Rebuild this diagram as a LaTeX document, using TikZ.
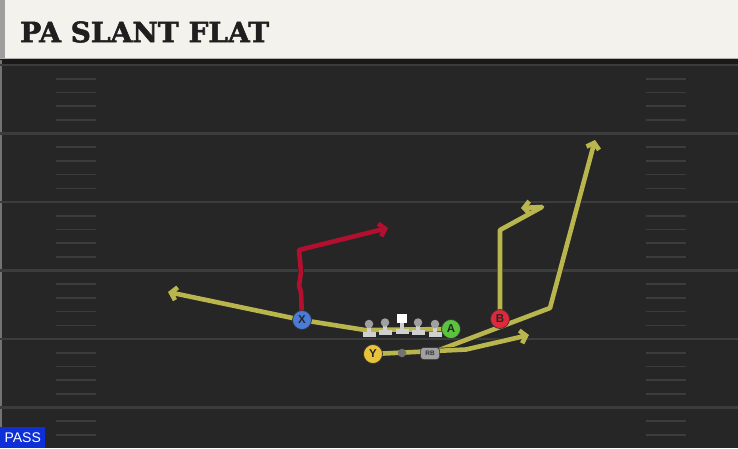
\documentclass[tikz,border=0pt]{standalone}
\usepackage{fontspec}
\setmainfont{Liberation Sans}
\newfontfamily\titlefont{DejaVu Serif}[BoldFeatures={FakeBold=2}]
\usetikzlibrary{arrows.meta}
\definecolor{fieldbg}{HTML}{262626}
\definecolor{yardline}{HTML}{3C3C3C}
\definecolor{hashc}{HTML}{3C3C3C}
\definecolor{titlebg}{HTML}{F4F2EC}
\definecolor{routey}{HTML}{B9B64E}
\definecolor{router}{HTML}{B3102F}
\definecolor{pblue}{HTML}{4A7BD8}
\definecolor{pgreen}{HTML}{5BC43E}
\definecolor{pred}{HTML}{E0283A}
\definecolor{pyellow}{HTML}{E8C33A}
\definecolor{linegray}{HTML}{D0D0D0}
\definecolor{headgray}{HTML}{A0A0A0}
\definecolor{passblue}{HTML}{0C2FD8}
\pgfdeclarelayer{field}
\pgfdeclarelayer{routes}
\pgfsetlayers{field,routes,main}
\tikzset{
  route/.style={line width=4.6pt, line join=round, draw=#1,
    preaction={draw=black!85, line width=6pt}},
  tip/.style={-{Straight Barb[length=5.5pt,width=13pt]}},
  player/.style={circle, draw=black!80, line width=0.7pt, minimum size=19pt, inner sep=0pt,
    font=\bfseries\fontsize{11.5}{11.5}\selectfont, text=black!85, fill=#1},
  lmhead/.style={circle, fill=headgray, minimum size=8.5pt, inner sep=0pt},
  lmbar/.style={fill=linegray},
  hashmark/.style={draw=hashc, line width=1.6pt},
  yline/.style={draw=yardline, line width=2.4pt}
}
\begin{document}
\begin{tikzpicture}[x=1pt,y=-1pt]
\useasboundingbox (0,0) rectangle (738,448);
\begin{pgfonlayer}{field}
  \fill[fieldbg] (0,0) rectangle (738,448);
  \fill[black!90] (0,58) rectangle (738,64);
  \fill[black!55] (0,60) rectangle (2,448);
  % yard lines
  \foreach \yy in {65,133.5,202,270.5,339,407.5} {
    \draw[yline] (0,\yy) -- (738,\yy);
  }
  % hash marks
  \foreach \yy in {65,133.5,202,270.5,339,407.5} {
    \foreach \k in {1,2,3,4} {
      \pgfmathsetmacro{\hy}{\yy+13.7*\k}
      \ifdim\hy pt<446pt
        \draw[hashmark] (56,\hy) -- (96,\hy);
        \draw[hashmark] (646,\hy) -- (686,\hy);
      \fi
    }
  }
  % title bar
  \fill[titlebg] (0,0) rectangle (738,58);
  \fill[black!38] (0,0) rectangle (4.5,58);
  \draw[black!30, line width=0.8pt] (0,58) -- (738,58);
\end{pgfonlayer}

\node[anchor=west, inner sep=0pt, font=\titlefont\bfseries\fontsize{28}{28}\selectfont, text=black!88] (title) at (20,32) {PA SLANT FLAT};

% linemen
\foreach \xx/\hy/\by [count=\i] in {369/324/334, 385/322.5/332, 418/322.5/332, 435/324/334} {
  \fill[lmbar] (\xx-1.8,\hy) rectangle (\xx+1.8,\by);
  \fill[lmbar] (\xx-6.5,\by-2) rectangle (\xx+6.5,\by+2.8);
  \node[lmhead] (lm\i) at (\xx,\hy) {};
}
\fill[lmbar] (400.2,318) rectangle (403.8,331);
\fill[lmbar] (395.5,329) rectangle (408.5,334);
\node[fill=white, minimum size=9.5pt, inner sep=0pt] (C) at (402,318.5) {};

% players
\node[player=pblue] (X) at (302,320) {X};
\node[player=pgreen] (A) at (451,329) {A};
\node[player=pred] (B) at (500,319) {B};
\node[player=pyellow] (Y) at (373,354) {Y};
\node[circle, fill=black!55, minimum size=8.5pt, inner sep=0pt] (QB) at (402,353) {};
\node[draw=black!80, line width=0.5pt, fill=headgray, rounded corners=3pt, minimum width=19pt, minimum height=12pt, inner sep=0pt, font=\bfseries\fontsize{6.5}{6.5}\selectfont, text=black!80] (RB) at (430,353.5) {RB};

\coordinate (Aend) at (168,292);
\coordinate (Xend) at (388,228);
\coordinate (Bend) at (521,208);
\coordinate (Yend) at (529,335);
\coordinate (Rend) at (595,140);

\begin{pgfonlayer}{routes}
  \draw[route=routey, tip] (A.center) -- (365,330) -- (X.center) -- (Aend);
  \draw[route=router, tip] (X.center) -- (301,292) -- (299,286) -- (301,272) -- (299,250) -- (Xend);
  \draw[route=routey, tip] (B.center) -- (500,230) -- (542,207) -- (Bend);
  \draw[route=routey, tip] (RB.center) -- (550,308) -- (Rend);
  \draw[route=routey, tip] (Y.center) -- (466,349.5) -- (Yend);
\end{pgfonlayer}

% PASS label
\node[fill=passblue, anchor=south west, minimum width=45pt, minimum height=21pt, inner sep=0pt, text=white, font=\fontsize{14}{14}\selectfont] (pass) at (0,448) {PASS};
\end{tikzpicture}
\end{document}
